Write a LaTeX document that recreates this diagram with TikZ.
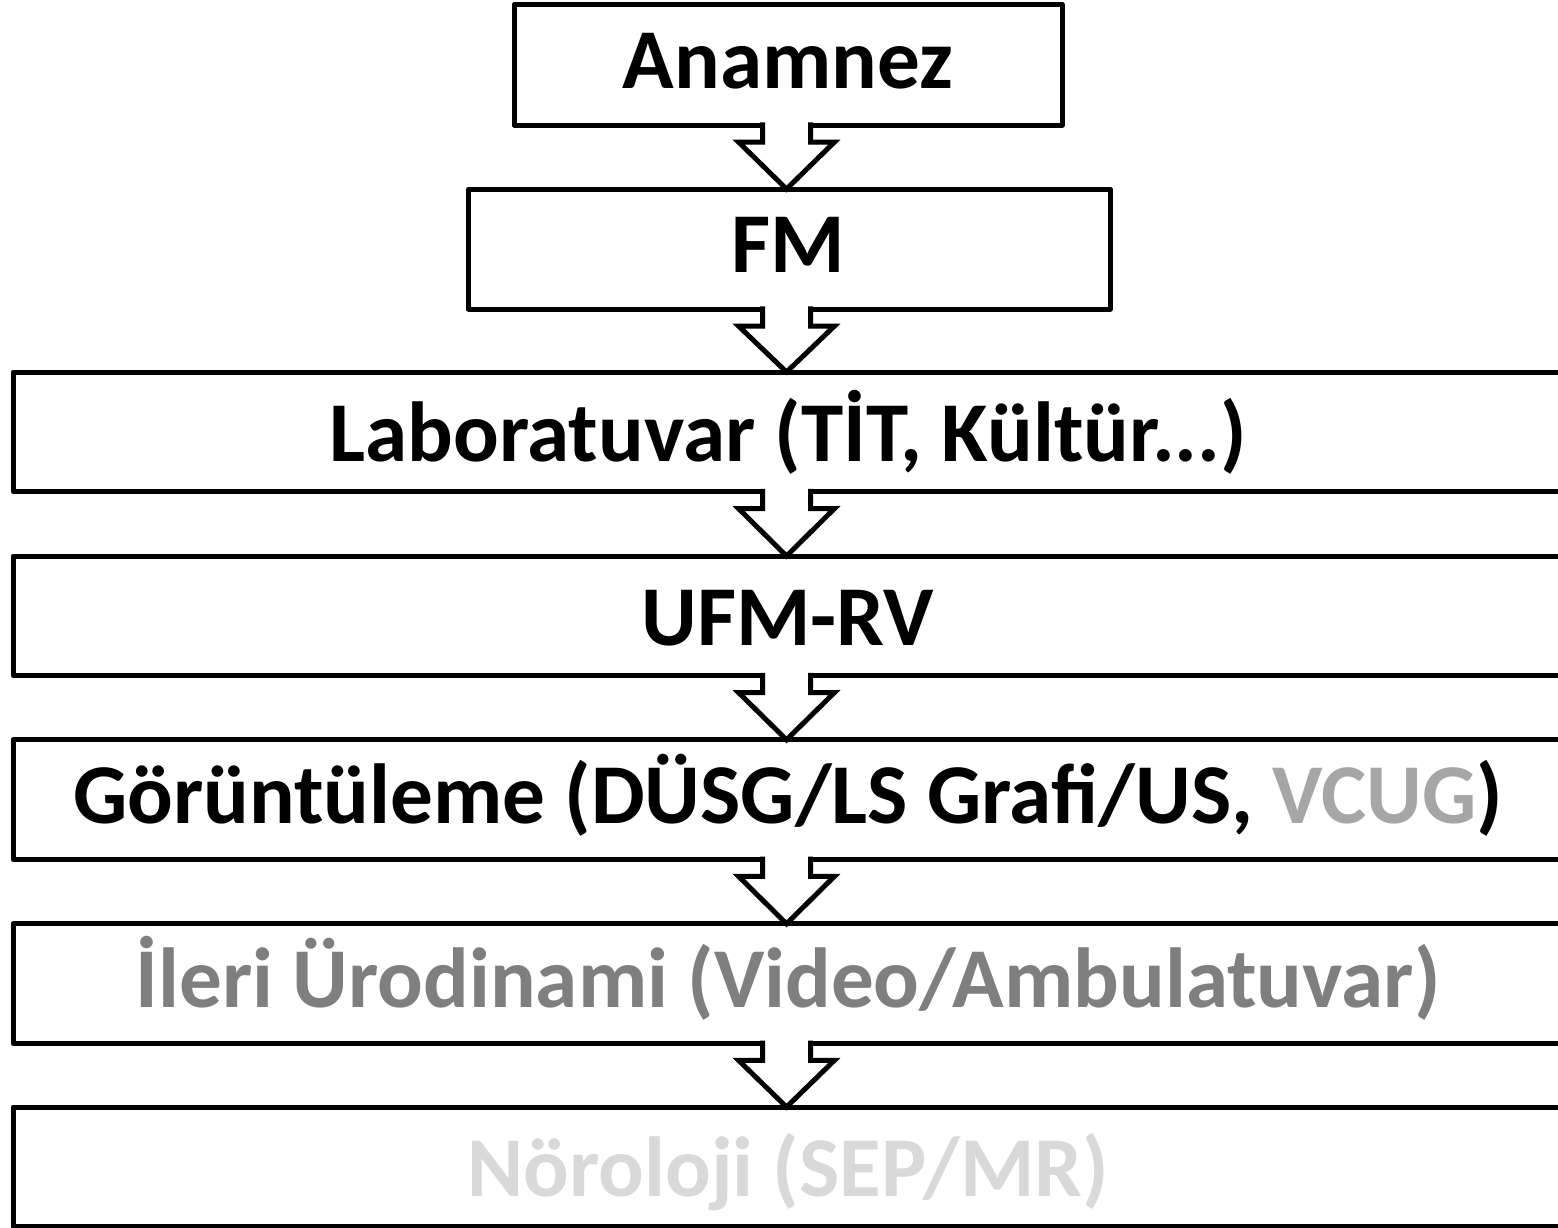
\documentclass[tikz,border=0pt]{standalone}
\usepackage{fontspec}
\setmainfont{Carlito}
\usetikzlibrary{calc}
\definecolor{vcug}{HTML}{A6A6A6}
\definecolor{ileri}{HTML}{7F7F7F}
\definecolor{noro}{HTML}{D9D9D9}
\tikzset{
  boxstyle/.style={draw=black, line width=2.5pt, line join=round, fill=white, outer sep=0pt, inner sep=0pt},
  labelstyle/.style={anchor=base, inner sep=0pt, font=\fontsize{42.6}{50}\selectfont\bfseries},
  arrowstyle/.style={draw=black, fill=white, line width=2.5pt, line join=miter},
}
\newcommand{\flowarrow}[2]{%
  \path (#1.south -| ax) coordinate (s) (#2.north -| ax) coordinate (e);
  \filldraw[arrowstyle] ([xshift=-12pt,yshift=1.3pt]s) -- ([xshift=-12pt,yshift=-8.5pt]s) -- ([xshift=-24pt,yshift=-8.5pt]s) -- (e) -- ([xshift=24pt,yshift=-8.5pt]s) -- ([xshift=12pt,yshift=-8.5pt]s) -- ([xshift=12pt,yshift=1.3pt]s);
}
\begin{document}
\begin{tikzpicture}[x=0.5pt,y=-0.5pt]
\useasboundingbox (0,0) rectangle (1558,1227);
\clip (0,0) rectangle (1558,1227);
\coordinate (ax) at (786.5,0);
% boxes
\node[boxstyle, minimum width=274pt, minimum height=60.25pt] (b1) at (788,64.75) {};
\node[boxstyle, minimum width=320.75pt, minimum height=60pt] (b2) at (789.25,249) {};
\node[boxstyle, minimum width=783.5pt, minimum height=59.75pt] (b3) at (796.5,431.75) {};
\node[boxstyle, minimum width=783.5pt, minimum height=59.75pt] (b4) at (796.5,615.75) {};
\node[boxstyle, minimum width=783.5pt, minimum height=59.75pt] (b5) at (796.5,799.5) {};
\node[boxstyle, minimum width=783.5pt, minimum height=59.75pt] (b6) at (796.5,983.5) {};
\node[boxstyle, minimum width=783.5pt, minimum height=59.75pt] (b7) at (796.5,1166.75) {};
% labels
\node[labelstyle] (t1) at (788,88) {Anamnez};
\node[labelstyle] (t2) at (788,272) {FM};
\node[labelstyle] (t3) at (788,461) {Laboratuvar (TİT, Kültür...)};
\node[labelstyle] (t4) at (788,645) {UFM-RV};
\node[labelstyle] (t5) at (788,823) {Görüntüleme (DÜSG/LS Grafi/US, \textcolor{vcug}{VCUG})};
\node[labelstyle, text=ileri] (t6) at (788,1007) {İleri Ürodinami (Video/Ambulatuvar)};
\node[labelstyle, text=noro] (t7) at (788,1196) {Nöroloji (SEP/MR)};
% arrows
\flowarrow{b1}{b2}
\flowarrow{b2}{b3}
\flowarrow{b3}{b4}
\flowarrow{b4}{b5}
\flowarrow{b5}{b6}
\flowarrow{b6}{b7}
\end{tikzpicture}
\end{document}
